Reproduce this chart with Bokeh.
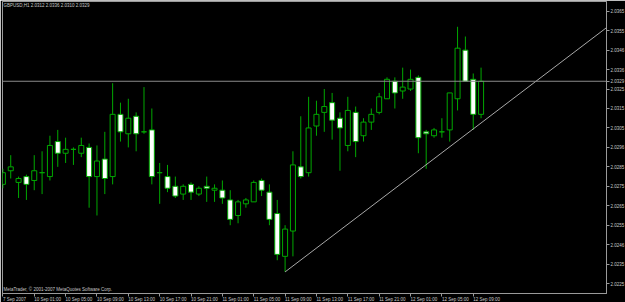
from bokeh.plotting import figure
from bokeh.models import FixedTicker, Label, ColumnDataSource, Range1d, Span
from bokeh.embed import file_html
from bokeh.resources import INLINE

symbol_title = "GBPUSD,H1"
first_bar = -4  # bar index of 7 Sep 2007 21:00 (index 0 = 10 Sep 01:00)

opens = [2.0276, 2.0283, 2.0277, 2.0280, 2.0278, 2.0282, 2.0280, 2.0298, 2.0292, 2.0294,
         2.0292, 2.0295, 2.0280, 2.0289, 2.0280, 2.0312, 2.0302, 2.0311, 2.0303, 2.0304,
         2.0282, 2.0280, 2.0275, 2.0271, 2.0276, 2.0271, 2.0275, 2.0273, 2.0273, 2.0268,
         2.0260, 2.0266, 2.0267, 2.0278, 2.0272, 2.0261, 2.0239, 2.0252, 2.0285, 2.0282,
         2.0306, 2.0313, 2.0318, 2.0310, 2.0296, 2.0313, 2.0301, 2.0308, 2.0313, 2.0320,
         2.0329, 2.0324, 2.0325, 2.0331, 2.0303, 2.0301, 2.0303, 2.0304, 2.0320, 2.0345,
         2.0330, 2.0312]
highs = [2.0284, 2.0291, 2.0280, 2.0281, 2.0291, 2.0293, 2.0301, 2.0304, 2.0300, 2.0295,
         2.0300, 2.0297, 2.0296, 2.0303, 2.0328, 2.0318, 2.0320, 2.0313, 2.0326, 2.0315,
         2.0287, 2.0286, 2.0280, 2.0276, 2.0277, 2.0275, 2.0280, 2.0276, 2.0278, 2.0273,
         2.0268, 2.0269, 2.0278, 2.0279, 2.0276, 2.0268, 2.0255, 2.0293, 2.0311, 2.0321,
         2.0319, 2.0325, 2.0323, 2.0313, 2.0321, 2.0316, 2.0310, 2.0315, 2.0323, 2.0331,
         2.0331, 2.0336, 2.0335, 2.0332, 2.0304, 2.0305, 2.0310, 2.0323, 2.0357, 2.0352,
         2.0333, 2.0336]
lows = [2.0274, 2.0279, 2.0269, 2.0268, 2.0273, 2.0271, 2.0278, 2.0285, 2.0287, 2.0286,
        2.0290, 2.0264, 2.0260, 2.0271, 2.0276, 2.0298, 2.0295, 2.0293, 2.0302, 2.0276,
        2.0266, 2.0272, 2.0269, 2.0268, 2.0268, 2.0270, 2.0267, 2.0267, 2.0266, 2.0255,
        2.0256, 2.0264, 2.0267, 2.0270, 2.0255, 2.0237, 2.0231, 2.0239, 2.0279, 2.0280,
        2.0301, 2.0303, 2.0299, 2.0283, 2.0293, 2.0290, 2.0298, 2.0304, 2.0312, 2.0320,
        2.0315, 2.0320, 2.0324, 2.0292, 2.0284, 2.0300, 2.0300, 2.0298, 2.0314, 2.0329,
        2.0304, 2.0310]
closes = [2.0282, 2.0285, 2.0279, 2.0276, 2.0283, 2.0282, 2.0296, 2.0292, 2.0294, 2.0294,
          2.0296, 2.0280, 2.0288, 2.0279, 2.0312, 2.0303, 2.0310, 2.0302, 2.0303, 2.0280,
          2.0282, 2.0274, 2.0270, 2.0275, 2.0272, 2.0274, 2.0274, 2.0274, 2.0269, 2.0258,
          2.0267, 2.0268, 2.0277, 2.0273, 2.0258, 2.0240, 2.0253, 2.0286, 2.0280, 2.0305,
          2.0312, 2.0316, 2.0309, 2.0305, 2.0314, 2.0298, 2.0308, 2.0312, 2.0321, 2.0330,
          2.0323, 2.0326, 2.0330, 2.0300, 2.0302, 2.0304, 2.0303, 2.0323, 2.0346, 2.0329,
          2.0312, 2.0329]

time_ticks = [-4, 0, 4, 8, 12, 16, 20, 24, 28, 32, 36, 40, 44, 48, 52, 56]
time_labels = ["7 Sep 2007", "10 Sep 01:00", "10 Sep 05:00", "10 Sep 09:00", "10 Sep 13:00",
               "10 Sep 17:00", "10 Sep 21:00", "11 Sep 01:00", "11 Sep 05:00", "11 Sep 09:00",
               "11 Sep 13:00", "11 Sep 17:00", "11 Sep 21:00", "12 Sep 01:00", "12 Sep 05:00",
               "12 Sep 09:00"]

price_ticks = [2.0365, 2.0355, 2.0345, 2.0335, 2.0325, 2.0315, 2.0305, 2.0295, 2.0285,
               2.0275, 2.0265, 2.0255, 2.0245, 2.0235, 2.0225]
price_labels = ["2.0365", "2.0355", "2.0346", "2.0336", "2.0325", "2.0315", "2.0305", "2.0296",
                "2.0285", "2.0275", "2.0265", "2.0255", "2.0246", "2.0235", "2.0225"]

trend_x = [32, 80]
trend_y = [2.0231, 2.0378]

x_start, x_end = -4.05, 73.0
y_start, y_end = 2.02199, 2.03700

GREEN = "#00a800"
FONT = "Liberation Sans"
FS = "4.5px"
TXT = "#c8c8c8"

idx = list(range(first_bar, first_bar + len(opens)))
src = ColumnDataSource(dict(
    x=idx, o=opens, h=highs, l=lows, c=closes,
    top=[max(a, b) for a, b in zip(opens, closes)],
    bottom=[min(a, b) for a, b in zip(opens, closes)],
    fill=["#ffffff" if c < o else "#000000" for o, c in zip(opens, closes)],
))

p = figure(frame_width=604, frame_height=292,
           x_range=Range1d(x_start, x_end), y_range=Range1d(y_start, y_end),
           y_axis_location="right", output_backend="svg", toolbar_location=None,
           background_fill_color="black", border_fill_color="black",
           min_border_left=2, min_border_top=1, min_border_right=0, min_border_bottom=0,
           outline_line_color="#9a9a9a", outline_line_width=1)
p.grid.visible = False

p.segment(x0="x", y0="h", x1="x", y1="l", source=src, line_color=GREEN, line_width=1)
p.vbar(x="x", top="top", bottom="bottom", width=0.64, fill_color="fill",
       line_color=GREEN, line_width=1, source=src)

p.add_layout(Span(location=closes[-1], dimension="width", line_color="#8a8a8a", line_width=1))
p.line(trend_x, trend_y, line_color="#a8a8a8", line_width=1)

for ax in (p.xaxis[0], p.yaxis[0]):
    ax.axis_line_color = "#9a9a9a"
    ax.major_tick_line_color = "#9a9a9a"
    ax.major_tick_out = 3
    ax.major_tick_in = 0
    ax.minor_tick_line_color = None
    ax.major_label_text_font = FONT
    ax.major_label_text_font_size = FS
    ax.major_label_text_color = TXT
    ax.major_label_standoff = 1

p.xaxis.ticker = FixedTicker(ticks=time_ticks)
p.xaxis.major_label_overrides = {t: s for t, s in zip(time_ticks, time_labels)}
p.xaxis.major_label_orientation = -1e-6
p.xaxis.major_label_standoff = 3

# price scale, including the current-price marker
y_ticks = price_ticks + [closes[-1]]
y_overrides = {t: s for t, s in zip(price_ticks, price_labels)}
y_overrides[closes[-1]] = f"{closes[-1]:.4f}"
p.yaxis.ticker = FixedTicker(ticks=y_ticks)
p.yaxis.major_label_overrides = y_overrides

title_text = f"{symbol_title}  {opens[-1]:.4f} {highs[-1]:.4f} {lows[-1]:.4f} {closes[-1]:.4f}"
p.add_layout(Label(x=x_start, y=y_end, x_offset=1, y_offset=-1, text=title_text,
                   text_font=FONT, text_font_size=FS, text_color=TXT,
                   text_baseline="top", text_align="left"))
p.add_layout(Label(x=x_start, y=y_start, x_offset=1, y_offset=2,
                   text="MetaTrader, \u00a9 2001-2007 MetaQuotes Software Corp.",
                   text_font=FONT, text_font_size=FS, text_color=TXT,
                   text_baseline="bottom", text_align="left"))

open("out.html", "w").write(file_html(p, INLINE))
